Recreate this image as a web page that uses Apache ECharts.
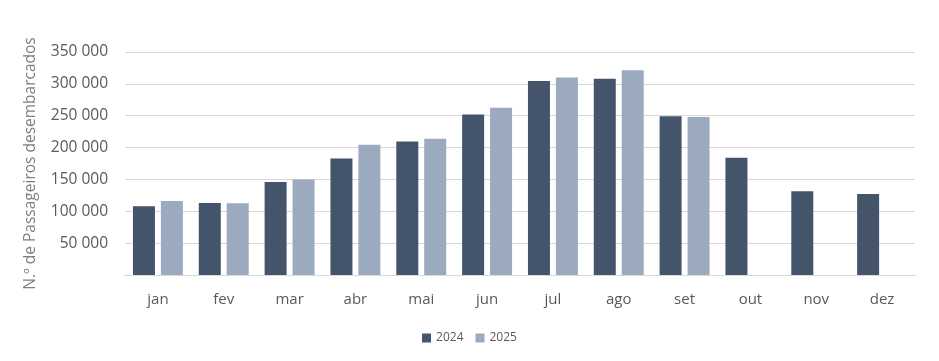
<!DOCTYPE html>
<html>
<head>
<meta charset="utf-8">
<script src="https://cdn.jsdelivr.net/npm/echarts@6/dist/echarts.min.js"></script>
<style>html,body{margin:0;padding:0;background:#fff}#c{width:939px;height:361px}</style>
</head>
<body>
<div id="c"></div>
<script>
const categories = ['jan','fev','mar','abr','mai','jun','jul','ago','set','out','nov','dez'];
const series2024 = [108000, 113000, 146000, 183000, 209500, 252000, 304500, 308000, 249000, 184000, 131500, 127000];
const series2025 = [116000, 112500, 150000, 204500, 214000, 262500, 310000, 321500, 248000, null, null, null];
const seriesNames = ['2024', '2025'];
const yAxisName = 'N.º de Passageiros desembarcados';

const fmt = v => String(v).replace(/\B(?=(\d{3})+(?!\d))/g, ' ');
const chart = echarts.init(document.getElementById('c'), null, {renderer: 'canvas'});
chart.setOption({
  animation: false,
  textStyle: {fontFamily: 'Open Sans'},
  grid: {left: 125, right: 24, top: 52, bottom: 86},
  legend: {
    bottom: 12, left: 'center', itemWidth: 9, itemHeight: 9, itemGap: 12,
    icon: 'rect',
    textStyle: {color: '#595959', fontSize: 12, fontFamily: 'Open Sans'},
    data: seriesNames
  },
  xAxis: {
    type: 'category', data: categories,
    axisLine: {lineStyle: {color: '#d9d9d9'}},
    axisTick: {show: false},
    axisLabel: {color: '#595959', fontSize: 15, margin: 17, fontFamily: 'Open Sans'}
  },
  yAxis: {
    type: 'value', min: 0, max: 350000, interval: 50000,
    name: yAxisName, nameLocation: 'middle', nameGap: 86, nameRotate: 90,
    nameTextStyle: {color: '#7f7f7f', fontSize: 15.5, fontFamily: 'Open Sans'},
    splitLine: {lineStyle: {color: '#d9d9d9'}},
    axisLine: {show: false}, axisTick: {show: false},
    axisLabel: {color: '#595959', fontSize: 15.5, margin: 17, fontFamily: 'Open Sans',
      formatter: v => v === 0 ? '' : fmt(v)}
  },
  series: [
    {name: seriesNames[0], type: 'bar', data: series2024, barWidth: 22, barGap: '27%', itemStyle: {color: '#44546a'}},
    {name: seriesNames[1], type: 'bar', data: series2025, barWidth: 22, barGap: '27%', itemStyle: {color: '#9caabf'}}
  ]
});
</script>
</body>
</html>
